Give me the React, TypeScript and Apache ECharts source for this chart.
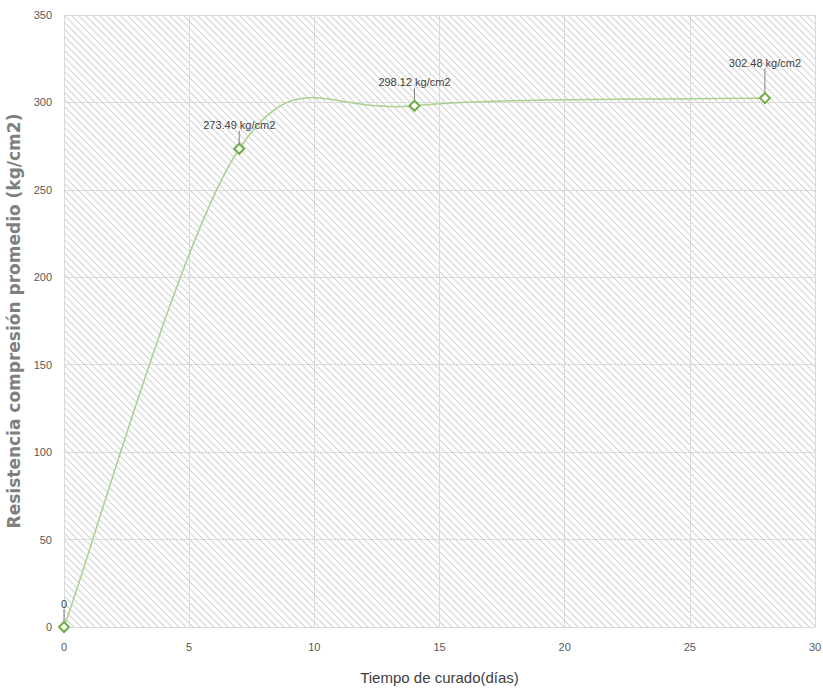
import React, { useEffect, useRef } from "react";
import * as echarts from "echarts";

const days = [0, 7, 14, 28];
const strength = [0, 273.49, 298.12, 302.48];
const pointLabels = ["0", "273.49 kg/cm2", "298.12 kg/cm2", "302.48 kg/cm2"];
const xTitle = "Tiempo de curado(días)";
const yTitle = "Resistencia compresión promedio (kg/cm2)";

const FONT = "'Liberation Sans', Arial, sans-serif";

const hatchSvg =
  "<svg xmlns='http://www.w3.org/2000/svg' width='7' height='7'>" +
  "<path d='M-1,-1 L8,8 M-1,6 L1,8 M6,-1 L8,1' stroke='#d2d2d2' stroke-width='1.1'/></svg>";
const hatchUrl = "data:image/svg+xml;charset=utf-8," + encodeURIComponent(hatchSvg);

// Excel-style smoothed scatter line (Catmull-Rom -> cubic Bezier), built from
// the data points mapped through the chart's own axes.
function smoothPath(pts: number[][]): string {
  if (!pts.length) return "";
  let d = `M${pts[0][0]},${pts[0][1]}`;
  for (let i = 0; i < pts.length - 1; i++) {
    const p0 = pts[i - 1] || pts[i];
    const p1 = pts[i];
    const p2 = pts[i + 1];
    const p3 = pts[i + 2] || pts[i + 1];
    const c1x = p1[0] + (p2[0] - p0[0]) / 6;
    const c1y = p1[1] + (p2[1] - p0[1]) / 6;
    const c2x = p2[0] - (p3[0] - p1[0]) / 6;
    const c2y = p2[1] - (p3[1] - p1[1]) / 6;
    d += ` C${c1x},${c1y} ${c2x},${c2y} ${p2[0]},${p2[1]}`;
  }
  return d;
}

export default function App() {
  const ref = useRef<HTMLDivElement>(null);
  useEffect(() => {
    document.body.style.margin = "0";
    document.body.style.overflow = "hidden";
    const chart = echarts.init(ref.current!, undefined, { renderer: "svg" });
    const data = days.map((d, i) => [d, strength[i]]);
    chart.setOption({
      animation: false,
      backgroundColor: "#ffffff",
      grid: {
        left: 64,
        right: 8,
        top: 15,
        bottom: 66,
        outerBoundsMode: "none",
        containLabel: false,
        show: true,
        borderWidth: 0,
        backgroundColor: { image: hatchUrl, repeat: "repeat" } as any,
      } as any,
      xAxis: {
        type: "value",
        min: 0,
        max: 30,
        interval: 5,
        name: xTitle,
        nameLocation: "middle",
        nameGap: 43,
        nameTextStyle: { fontFamily: FONT, fontSize: 15, color: "#404040" },
        axisLine: { show: true, lineStyle: { color: "#d9d9d9" } },
        axisTick: { show: false },
        axisLabel: { fontFamily: FONT, fontSize: 11, color: "#595959", margin: 14 },
        splitLine: { show: true, lineStyle: { color: "#d9d9d9", width: 1 } },
      },
      yAxis: {
        type: "value",
        min: 0,
        max: 350,
        interval: 50,
        name: yTitle,
        nameLocation: "middle",
        nameGap: 27,
        nameTextStyle: { fontFamily: "'DejaVu Sans', sans-serif", fontSize: 17, fontWeight: "bold", color: "#7f7f7f" },
        axisLine: { show: false },
        axisTick: { show: false },
        axisLabel: { fontFamily: FONT, fontSize: 11, color: "#595959", margin: 12 },
        splitLine: { show: true, lineStyle: { color: "#d9d9d9", width: 1 } },
      },
      series: [
        {
          type: "custom",
          data: data,
          encode: { x: 0, y: 1 },
          silent: true,
          z: 2,
          renderItem: (params: any, api: any) => {
            if (params.dataIndex !== 0) return null;
            const pts = data.map((p) => api.coord(p));
            return {
              type: "path",
              shape: { pathData: smoothPath(pts) },
              style: { fill: "none", stroke: "#a9d18e", lineWidth: 1.5 },
            };
          },
        },
        {
          type: "scatter",
          data: data,
          symbol: "diamond",
          symbolSize: 10,
          z: 3,
          itemStyle: { color: "#ffffff", borderColor: "#70ad47", borderWidth: 2, opacity: 1 },
          label: {
            show: true,
            position: "top",
            distance: 12,
            fontFamily: FONT,
            fontSize: 11,
            color: "#404040",
            formatter: (p: any) => pointLabels[p.dataIndex],
          },
          labelLine: { show: true, lineStyle: { color: "#7f7f7f", width: 1 } },
          labelLayout: (p: any) => (p.dataIndex === 3 ? { dy: -12 } : {}),
          emphasis: { disabled: true },
        },
      ],
    });
    return () => chart.dispose();
  }, []);
  return <div ref={ref} style={{ width: 823, height: 693 }} />;
}
